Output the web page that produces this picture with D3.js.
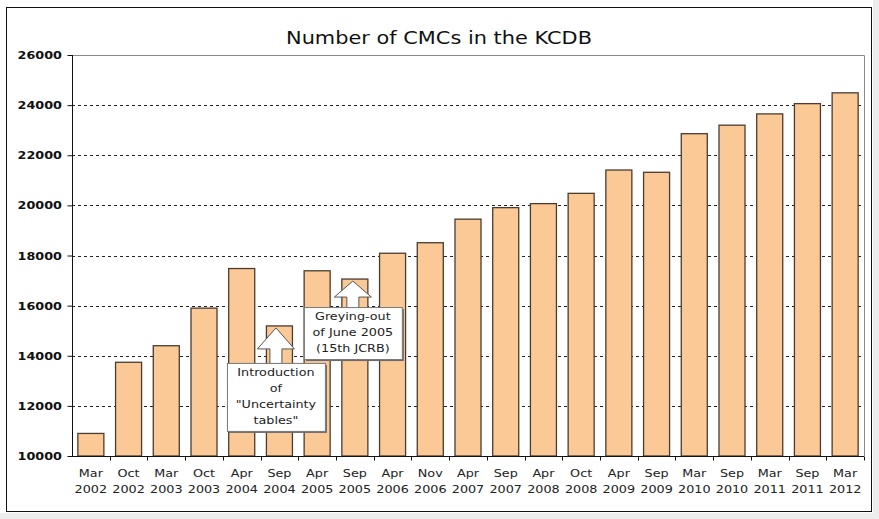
<!DOCTYPE html>
<html><head><meta charset="utf-8">
<script src="https://cdn.jsdelivr.net/npm/d3@7"></script>
<style>body{margin:0;background:#fff;} svg{display:block}</style>
</head><body><svg id="c" width="879" height="519"></svg>
<script>
// ---- data ----
const categories = ["Mar 2002","Oct 2002","Mar 2003","Oct 2003","Apr 2004","Sep 2004","Apr 2005","Sep 2005","Apr 2006","Nov 2006","Apr 2007","Sep 2007","Apr 2008","Oct 2008","Apr 2009","Sep 2009","Mar 2010","Sep 2010","Mar 2011","Sep 2011","Mar 2012"];
const values = [10900,13740,14400,15900,17480,15190,17390,17060,18090,18510,19450,19910,20070,20480,21410,21320,22860,23200,23650,24060,24490];
const yTicks = [10000,12000,14000,16000,18000,20000,22000,24000,26000];
const title = "Number of CMCs in the KCDB";
const annotationCategories = ["Sep 2004","Sep 2005"];
const annotationTexts = [["Introduction","of","\"Uncertainty","tables\""],["Greying-out","of June 2005","(15th JCRB)"]];

// ---- layout ----
const svg = d3.select("#c");
const L = 72, R = 864, T = 55, B = 456;
const x = d3.scaleBand().domain(categories).range([L, R]).paddingInner(0.31).paddingOuter(0.155);
const y = d3.scaleLinear().domain([10000, 26000]).range([B, T]);
const FONT = "DejaVu Sans, Verdana, sans-serif";
const SX = 1.16; // horizontal stretch of the reference's text

// background strips & frame
svg.append("rect").attr("x",0).attr("y",513).attr("width",879).attr("height",6).attr("fill","#ededed");
svg.append("rect").attr("x",873).attr("y",0).attr("width",6).attr("height",519).attr("fill","#ededed");
svg.append("rect").attr("x",6.5).attr("y",7.5).attr("width",865).attr("height",504)
  .attr("fill","#fff").attr("stroke","#111").attr("stroke-width",1);

function stext(g, px, py, str, size, weight, anchor, fill){
  return g.append("text").attr("transform",`translate(${px},${py}) scale(${SX},1)`)
    .attr("font-family",FONT).attr("font-size",size).attr("font-weight",weight||"normal")
    .attr("text-anchor",anchor||"middle").attr("fill",fill||"#222").text(str);
}

// title
stext(svg, 439, 44, title, 18, "normal", "middle", "#111");

// gridlines (dashed), excluding top which is plot border
const grid = svg.append("g");
yTicks.filter(t => t > 10000 && t < 26000).forEach(t => {
  grid.append("line").attr("x1",L).attr("x2",R).attr("y1",Math.round(y(t))+0.5).attr("y2",Math.round(y(t))+0.5)
    .attr("stroke","#222").attr("stroke-width",1).attr("stroke-dasharray","3,3");
});
// plot border top & right (gray)
svg.append("path").attr("d",`M${L},${T+0.5}H${R+0.5}V${B}`).attr("fill","none").attr("stroke","#8a8a8a").attr("stroke-width",1);

// bars
svg.append("g").selectAll("rect").data(values).join("rect")
  .attr("x",(d,i)=>x(categories[i]))
  .attr("width",x.bandwidth())
  .attr("y",d=>y(d))
  .attr("height",d=>B - y(d))
  .attr("fill","#FAC995").attr("stroke","#4a3c30").attr("stroke-width",1.3);

// axes
const yAxis = svg.append("g").attr("transform",`translate(${L+0.5},0)`)
  .call(d3.axisLeft(y).tickValues(yTicks).tickSize(5).tickFormat(d=>""));
yAxis.select(".domain").attr("stroke","#111").attr("d",`M0,${T}V${B}`);
yAxis.selectAll(".tick line").attr("stroke","#111");
yTicks.forEach(t => stext(svg, 62, y(t)+4, String(t), 11, "bold", "end", "#111"));

const xAxis = svg.append("g").attr("transform",`translate(0,${B+0.5})`)
  .call(d3.axisBottom(x).tickSize(0).tickFormat(d=>""));
xAxis.select(".domain").attr("stroke","#111").attr("d",`M${L},0H${R}`);
const step = x.step();
categories.forEach((c,i) => {
  const bx = Math.round(x(c) - (step - x.bandwidth())/2) + 0.5;
  if (i > 0) xAxis.append("line").attr("x1",bx).attr("x2",bx).attr("y1",0).attr("y2",4).attr("stroke","#111");
  const cx = x(c) + x.bandwidth()/2;
  const parts = c.split(" ");
  stext(svg, cx, 477, parts[0], 11, "normal", "middle", "#222");
  stext(svg, cx, 493, parts[1], 11, "normal", "middle", "#222");
});
xAxis.append("line").attr("x1",R+0.5).attr("x2",R+0.5).attr("y1",0).attr("y2",4).attr("stroke","#111");

// annotations
const annLayout = [{dx:-3.5, gap:35, head:21, w:98, h:68}, {dx:-2, gap:26, head:16, w:98, h:52}];
annotationCategories.forEach((cat,k) => {
  const i = categories.indexOf(cat);
  const lay = annLayout[k];
  const cx = x(cat) + x.bandwidth()/2 + lay.dx;
  const tip = y(values[i]) + 2;
  const hb = tip + lay.head, bt = tip + lay.gap;
  const g = svg.append("g");
  g.append("path").attr("d",`M${cx},${tip}L${cx+18.5},${hb}H${cx+6}V${bt+1}H${cx-6}V${hb}H${cx-18.5}Z`)
    .attr("fill","#fff").attr("stroke","#555").attr("stroke-width",1);
  const bx = cx - lay.w/2;
  g.append("rect").attr("x",bx+2).attr("y",bt+2).attr("width",lay.w).attr("height",lay.h).attr("fill","#6a6a6a");
  g.append("rect").attr("x",bx+0.5).attr("y",bt+0.5).attr("width",lay.w).attr("height",lay.h)
    .attr("fill","#fff").attr("stroke","#777").attr("stroke-width",1);
  annotationTexts[k].forEach((line,j) => stext(g, cx, bt + 13 + j*16, line, 11, "normal", "middle", "#222"));
});
</script></body></html>
